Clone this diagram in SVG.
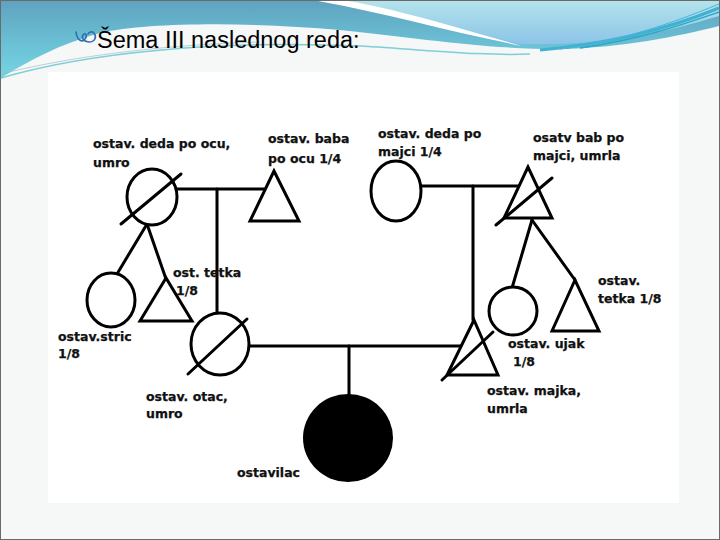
<svg xmlns="http://www.w3.org/2000/svg" width="720" height="540" viewBox="0 0 720 540">
<defs>
<linearGradient id="gL" x1="0" y1="0" x2="0" y2="1">
<stop offset="0" stop-color="#5fa3c0"/>
<stop offset="0.6" stop-color="#6cc2d6"/>
<stop offset="1" stop-color="#74d6e2"/>
</linearGradient>
<linearGradient id="gR" x1="0" y1="0" x2="0" y2="1">
<stop offset="0" stop-color="#b4e3ec"/>
<stop offset="1" stop-color="#8cc4e8"/>
</linearGradient>
<style>
.ln{stroke:#000;stroke-width:3;fill:none;stroke-linecap:round}
.sh{stroke:#000;stroke-width:3;fill:#fff}
.lb{font-family:"DejaVu Sans",Verdana,sans-serif;font-weight:bold;font-size:12.5px;fill:#111;stroke:#111;stroke-width:0.25}
.ti{font-family:"Liberation Sans",Arial,sans-serif;font-size:23.5px;fill:#000}
</style>
</defs>
<!-- slide background -->
<rect x="0.5" y="0.5" width="719" height="539" fill="#f6f7f7" stroke="#6a6a6a" stroke-width="1"/>
<!-- top decorative band -->
<path d="M1,1 H719 V26 C680,36 620,48 560,49 C480,49 420,38 340,30 C250,22 150,22 100,33 C60,44 30,60 1,78 Z" fill="url(#gL)"/>
<path d="M330,1 C400,12 460,30 520,44 C600,46 660,34 719,16 V1 Z" fill="url(#gR)"/>
<path d="M318,1 C390,14 450,32 522,46 C452,26 392,8 348,1 Z" fill="#fff"/>
<path d="M540,50 C610,44 670,28 719,8" stroke="#3fb2d2" stroke-width="3" fill="none"/>
<path d="M560,49 C620,42 675,22 719,4" stroke="#4ab6d4" stroke-width="1" fill="none"/>
<path d="M580,48 C640,40 690,22 719,12" stroke="#2fa6c8" stroke-width="1.5" fill="none"/>
<path d="M1,78 C90,52 220,40 360,46 C430,50 480,56 530,54" stroke="#4fbccc" stroke-width="1.5" fill="none" opacity="0.7"/>
<path d="M1,74 C80,54 180,44 260,42" stroke="#8fb8c0" stroke-width="1" fill="none" opacity="0.6"/>
<!-- title -->
<g id="title">
<path d="M76,32 C77,40 82,43 85,39 C88,35 85,32 83,35 C81,38 84,42 89,42 C95,42 97,37 94,33 C92,31 89,32 88,34" stroke="#2c6fb0" stroke-width="1.6" fill="none" stroke-linecap="round"/>
<text class="ti" x="97" y="48">Šema III naslednog reda:</text>
</g>
<!-- pasted diagram area -->
<rect x="48" y="72" width="631" height="431" fill="#fff"/>

<g id="connectors">
<line class="ln" x1="177" y1="189" x2="265" y2="189"/>
<line class="ln" x1="217" y1="189" x2="217" y2="313"/>
<line class="ln" x1="147" y1="224" x2="117" y2="274"/>
<line class="ln" x1="147" y1="224" x2="166" y2="279"/>
<line class="ln" x1="249" y1="346" x2="461" y2="346"/>
<line class="ln" x1="349" y1="346" x2="349" y2="396"/>
<line class="ln" x1="421" y1="186" x2="519" y2="186"/>
<line class="ln" x1="473" y1="186" x2="473" y2="320"/>
<line class="ln" x1="532" y1="220" x2="512" y2="288"/>
<line class="ln" x1="532" y1="220" x2="575" y2="280"/>
</g>

<g id="deda-po-ocu">
<ellipse class="sh" cx="152" cy="197" rx="25" ry="28"/>
<line class="ln" x1="121" y1="224" x2="181" y2="174"/>
<text class="lb" x="93" y="148">ostav. deda po ocu,</text>
<text class="lb" x="93" y="167">umro</text>
</g>
<g id="baba-po-ocu">
<polygon class="sh" points="274,171 250,221 299,221"/>
<text class="lb" x="268" y="143">ostav. baba</text>
<text class="lb" x="268" y="163">po ocu 1/4</text>
</g>
<g id="stric">
<ellipse class="sh" cx="111" cy="300" rx="24" ry="27"/>
<text class="lb" x="58" y="341">ostav.stric</text>
<text class="lb" x="58" y="358">1/8</text>
</g>
<g id="tetka-po-ocu">
<polygon class="sh" points="166,278 140,321 192,321"/>
<text class="lb" x="173" y="277">ost. tetka</text>
<text class="lb" x="176" y="295">1/8</text>
</g>
<g id="otac">
<ellipse class="sh" cx="220" cy="344" rx="29" ry="31"/>
<line class="ln" x1="188" y1="374" x2="247" y2="319"/>
<text class="lb" x="146" y="401">ostav. otac,</text>
<text class="lb" x="146" y="418">umro</text>
</g>
<g id="ostavilac">
<ellipse cx="348" cy="438" rx="45" ry="44" fill="#000"/>
<text class="lb" x="237" y="477">ostavilac</text>
</g>
<g id="deda-po-majci">
<ellipse class="sh" cx="396" cy="191" rx="25" ry="30"/>
<text class="lb" x="378" y="138">ostav. deda po</text>
<text class="lb" x="378" y="156">majci 1/4</text>
</g>
<g id="baba-po-majci">
<polygon class="sh" points="528,167 504,218 552,218"/>
<line class="ln" x1="496" y1="225" x2="552" y2="178"/>
<text class="lb" x="533" y="142">osatv bab po</text>
<text class="lb" x="533" y="160">majci, umrla</text>
</g>
<g id="ujak">
<ellipse class="sh" cx="513" cy="311" rx="24" ry="24"/>
<text class="lb" x="508" y="348">ostav. ujak</text>
<text class="lb" x="513" y="366">1/8</text>
</g>
<g id="tetka-po-majci">
<polygon class="sh" points="575,280 552,331 599,331"/>
<text class="lb" x="598" y="285">ostav.</text>
<text class="lb" x="598" y="303">tetka 1/8</text>
</g>
<g id="majka">
<polygon class="sh" points="474,320 447,375 498,375"/>
<line class="ln" x1="442" y1="380" x2="493" y2="332"/>
<text class="lb" x="487" y="395">ostav. majka,</text>
<text class="lb" x="487" y="413">umrla</text>
</g>
</svg>
